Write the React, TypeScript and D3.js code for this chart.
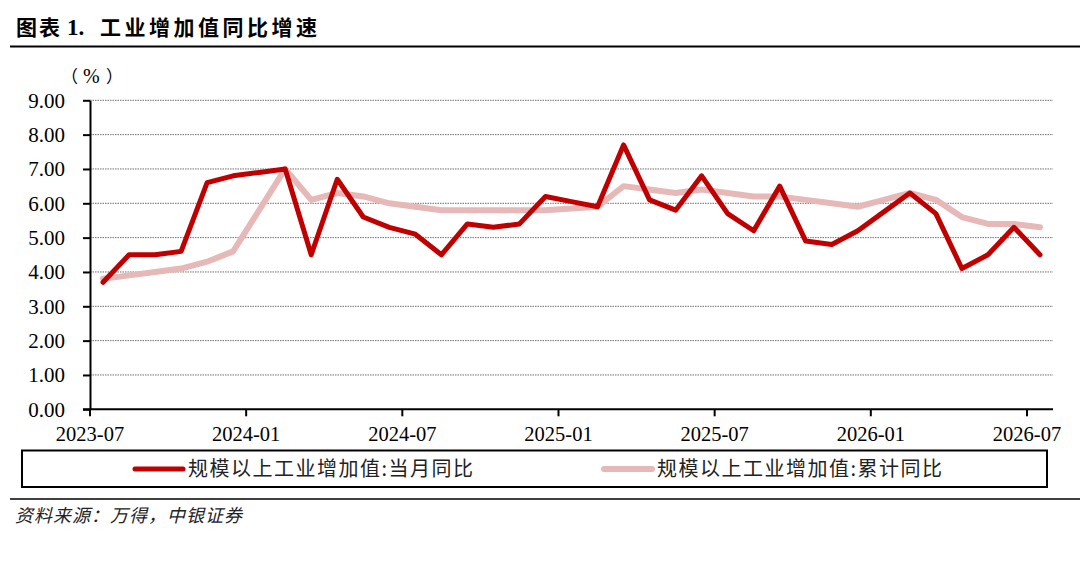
import * as d3 from "d3";
import { useEffect, useRef } from "react";

const MONTHS = [
  "2023-07", "2023-08", "2023-09", "2023-10", "2023-11", "2023-12",
  "2024-01", "2024-02", "2024-03", "2024-04", "2024-05", "2024-06",
  "2024-07", "2024-08", "2024-09", "2024-10", "2024-11", "2024-12",
  "2025-01", "2025-02", "2025-03", "2025-04", "2025-05", "2025-06",
  "2025-07", "2025-08", "2025-09", "2025-10", "2025-11", "2025-12",
  "2026-01", "2026-02", "2026-03", "2026-04", "2026-05", "2026-06",
  "2026-07",
];

// 规模以上工业增加值:当月同比
const MONTHLY_YOY = [
  3.7, 4.5, 4.5, 4.6, 6.6, 6.8,
  6.9, 7.0, 4.5, 6.7, 5.6, 5.3,
  5.1, 4.5, 5.4, 5.3, 5.4, 6.2,
  6.05, 5.9, 7.7, 6.1, 5.8, 6.8,
  5.7, 5.2, 6.5, 4.9, 4.8, 5.2,
  5.75, 6.3, 5.7, 4.1, 4.5, 5.3,
  4.5,
];

// 规模以上工业增加值:累计同比
const CUMULATIVE_YOY = [
  3.8, 3.9, 4.0, 4.1, 4.3, 4.6,
  5.8, 7.0, 6.1, 6.3, 6.2, 6.0,
  5.9, 5.8, 5.8, 5.8, 5.8, 5.8,
  5.85, 5.9, 6.5, 6.4, 6.3, 6.4,
  6.3, 6.2, 6.2, 6.1, 6.0, 5.9,
  6.1, 6.3, 6.1, 5.6, 5.4, 5.4,
  5.3,
];

const Y_TICKS = [0, 1, 2, 3, 4, 5, 6, 7, 8, 9];
const X_TICK_LABELS = ["2023-07", "2024-01", "2024-07", "2025-01", "2025-07", "2026-01", "2026-07"];

const SERIES = [
  { name: "规模以上工业增加值:当月同比", values: MONTHLY_YOY, color: "#C00000", width: 5 },
  { name: "规模以上工业增加值:累计同比", values: CUMULATIVE_YOY, color: "#E6B9B8", width: 6 },
];

const WIDTH = 1080;
const HEIGHT = 562;
const SERIF = "'Liberation Serif', 'Times New Roman', serif";
const CJK = "'Noto Sans CJK SC', sans-serif";

const App = () => {
  const svgRef = useRef(null);

  useEffect(() => {
    const svg = d3.select(svgRef.current).attr("width", WIDTH).attr("height", HEIGHT);
    svg.selectAll("*").remove();

    const left = 90,
      right = 1053,
      top = 100.3,
      bottom = 409.3;

    const x = d3.scaleBand<string>().domain(MONTHS).range([left, right]);
    const y = d3.scaleLinear().domain([0, 9]).range([bottom, top]);
    const cx = (i: number) => (x(MONTHS[i]) as number) + x.bandwidth() / 2;

    // title
    const title = svg
      .append("text")
      .attr("y", 35)
      .attr("font-family", CJK)
      .attr("font-weight", "bold")
      .attr("font-size", 21)
      .attr("fill", "#000");
    title.append("tspan").attr("x", 16).attr("letter-spacing", 2).text("图表");
    title.append("tspan").attr("x", 67).attr("font-family", SERIF).attr("font-size", 23).text("1.");
    title.append("tspan").attr("x", 100).attr("letter-spacing", 3.5).text("工业增加值同比增速");

    svg
      .append("line")
      .attr("x1", 10)
      .attr("x2", 1080)
      .attr("y1", 46.5)
      .attr("y2", 46.5)
      .attr("stroke", "#000")
      .attr("stroke-width", 2);

    // unit
    const unit = svg
      .append("text")
      .attr("y", 83)
      .attr("font-family", CJK)
      .attr("font-size", 17)
      .attr("fill", "#000");
    unit.append("tspan").attr("x", 61).text("（");
    unit.append("tspan").attr("x", 83).attr("font-family", SERIF).attr("font-size", 20).text("%");
    unit.append("tspan").attr("x", 106).text("）");

    // grid
    svg
      .append("g")
      .selectAll("line")
      .data(Y_TICKS.filter((d) => d > 0))
      .join("line")
      .attr("x1", left)
      .attr("x2", right)
      .attr("y1", (d) => y(d))
      .attr("y2", (d) => y(d))
      .attr("stroke", "#6f6f6f")
      .attr("stroke-width", 1)
      .attr("stroke-dasharray", "1.5 1");

    // y axis
    const yAxis = svg
      .append("g")
      .attr("transform", `translate(${left},0)`)
      .call(d3.axisLeft(y).tickValues(Y_TICKS).tickFormat(d3.format(".2f")).tickSize(7).tickSizeOuter(0).tickPadding(18));
    yAxis.select(".domain").attr("stroke", "#000").attr("stroke-width", 2);
    yAxis.selectAll(".tick line").attr("stroke", "#000").attr("stroke-width", 2);
    yAxis.selectAll("text").attr("font-family", SERIF).attr("font-size", 21).attr("fill", "#000");

    // x axis
    const tickMonths = MONTHS.filter((m) => X_TICK_LABELS.includes(m));
    const xAxis = svg
      .append("g")
      .attr("transform", `translate(0,${bottom})`)
      .call(
        d3
          .axisBottom(x)
          .tickValues(tickMonths)
          .tickSize(7)
          .tickSizeOuter(0)
          .tickPadding(10)
      );
    xAxis.selectAll(".tick").attr("transform", (d: any) => `translate(${x(d)},0)`);
    xAxis.select(".domain").attr("d", `M${left - 7},0H${right}`).attr("stroke", "#000").attr("stroke-width", 2);
    xAxis.selectAll(".tick line").attr("stroke", "#000").attr("stroke-width", 2);
    xAxis.selectAll("text").attr("font-family", SERIF).attr("font-size", 20.5).attr("fill", "#000");

    // lines
    const line = d3
      .line<number>()
      .x((_, i) => cx(i))
      .y((d) => y(d));

    [...SERIES].reverse().forEach((s) => {
      svg
        .append("path")
        .attr("d", line(s.values) as string)
        .attr("fill", "none")
        .attr("stroke", s.color)
        .attr("stroke-width", s.width)
        .attr("stroke-linejoin", "round")
        .attr("stroke-linecap", "round");
    });

    // legend
    svg
      .append("rect")
      .attr("x", 22)
      .attr("y", 450.5)
      .attr("width", 1025)
      .attr("height", 36.5)
      .attr("fill", "#fff")
      .attr("stroke", "#000")
      .attr("stroke-width", 2);

    const legendX = [135, 604];
    SERIES.forEach((s, i) => {
      const g = svg.append("g").attr("transform", `translate(${legendX[i]},469)`);
      g.append("line")
        .attr("x1", 0)
        .attr("x2", 48)
        .attr("stroke", s.color)
        .attr("stroke-width", s.width)
        .attr("stroke-linecap", "round");
      g.append("text")
        .attr("x", 53)
        .attr("y", 7)
        .attr("font-family", CJK)
        .attr("font-size", 20)
        .attr("letter-spacing", 1.5)
        .attr("fill", "#222")
        .text(s.name);
    });

    svg
      .append("line")
      .attr("x1", 10)
      .attr("x2", 1080)
      .attr("y1", 499)
      .attr("y2", 499)
      .attr("stroke", "#000")
      .attr("stroke-width", 1.5);

    // source
    svg
      .append("text")
      .attr("x", 15)
      .attr("y", 522)
      .attr("font-family", CJK)
      .attr("font-size", 18)
      .attr("font-style", "italic")
      .attr("letter-spacing", 1)
      .attr("fill", "#222")
      .text("资料来源：万得，中银证券");
  }, []);

  return (
    <div style={{ position: "absolute", left: 0, top: 0, background: "#fff" }}>
      <svg ref={svgRef} style={{ display: "block" }}></svg>
    </div>
  );
};

export default App;
